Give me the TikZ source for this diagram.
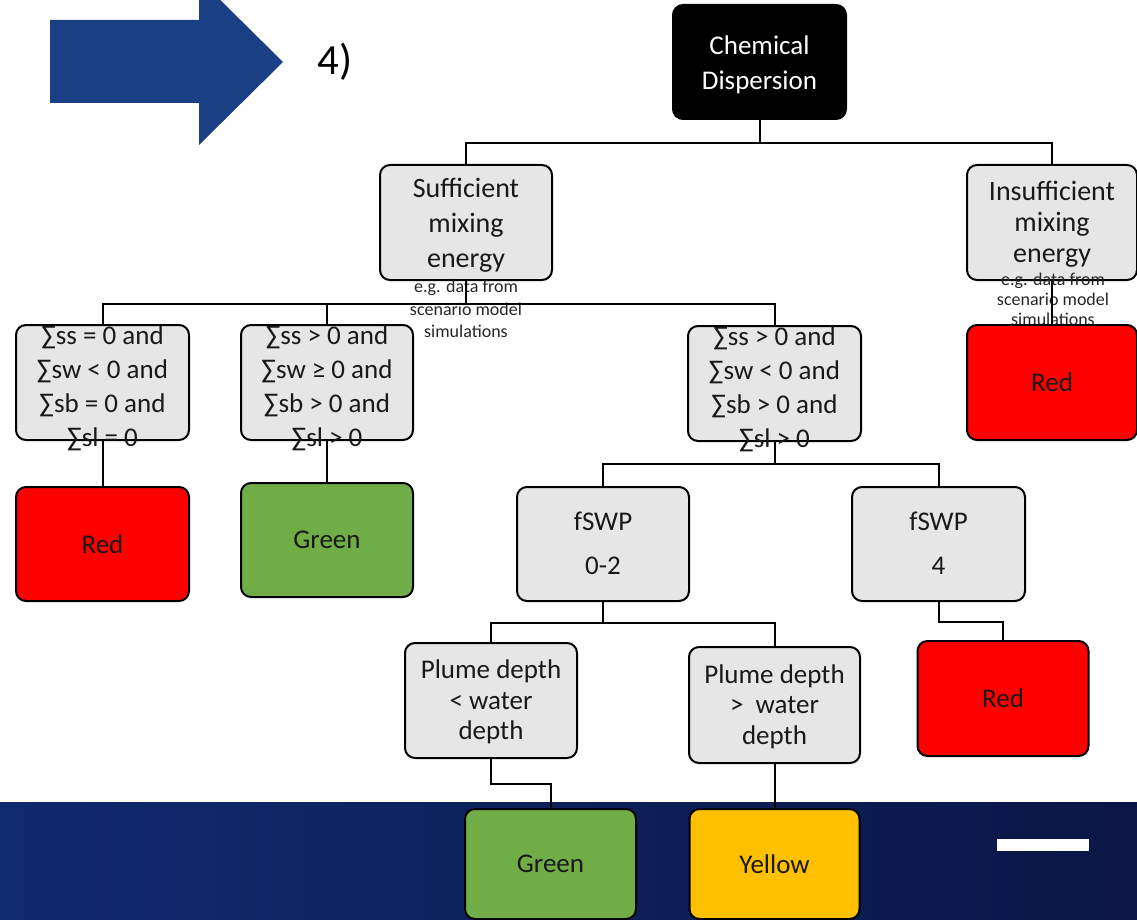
\documentclass[tikz,border=0pt]{standalone}
\usepackage{fontspec}
\setmainfont{Carlito}
\definecolor{boxgray}{RGB}{230,230,230}
\definecolor{boxred}{RGB}{255,0,0}
\definecolor{boxgreen}{RGB}{112,173,71}
\definecolor{boxyellow}{RGB}{255,192,0}
\definecolor{arrowblue}{RGB}{27,63,132}
\definecolor{bandleft}{RGB}{16,42,110}
\definecolor{bandmid}{RGB}{13,30,88}
\definecolor{bandright}{RGB}{11,22,70}
% multi-line text that may run over the box border
\newcommand{\boxtext}[2][9pt]{\smash{\raisebox{-#1}{\begin{tabular}{@{}c@{}}#2\end{tabular}}}}
\begin{document}
\begin{tikzpicture}[x=1pt,y=-1pt]
        \tikzstyle{decision}=[rectangle,rounded corners=10pt,draw=black,line width=2pt,fill=boxgray,text=black!90,minimum width=172pt,minimum height=115pt,inner sep=0pt,font=\fontsize{27}{33}\selectfont]
        \tikzstyle{outcome}=[decision,minimum height=114pt]
        \tikzstyle{note}=[inner sep=0pt,text=black!85,font=\fontsize{18}{22.5}\selectfont]
        \tikzstyle{edge}=[draw,line width=2pt]
        \useasboundingbox (0,0) rectangle (1137,920);
        \clip (0,0) rectangle (1137,920);
       \begin{scope}
         \shade[left color=bandleft,middle color=bandmid,right color=bandright] (0,802) rectangle (1137,920);
         \fill[white] (997,839) rectangle (1089,851);
         \fill[arrowblue] (50,20) -- (199,20) -- (199,-21) -- (283,62) -- (199,145) -- (199,103) -- (50,103) -- cycle;
         \node [inner sep=0pt,font=\fontsize{43}{50}\selectfont] (step4) at (335,62) {4)};
       \end{scope}
       \begin{scope}
         \node [decision,fill=black,text=white,minimum width=173pt,minimum height=114pt,font=\fontsize{27}{35}\selectfont] (chem) at (759.5,62) {\boxtext{Chemical\\Dispersion}};
         \node [decision,font=\fontsize{28}{35}\selectfont] (suff) at (466,222.5) {\boxtext{Sufficient\\mixing\\energy}};
         \node [note] (note1) at (466,315) {\boxtext[0pt]{e.g. data from\\scenario model\\simulations}};
         \node [decision,minimum width=170pt,font=\fontsize{28}{31}\selectfont] (insuff) at (1052,222.5) {\boxtext{Insufficient\\mixing\\energy}};
         \node [note,font=\fontsize{18}{20}\selectfont] (note2) at (1053,306) {\boxtext[0pt]{e.g. data from\\scenario model\\simulations}};
         \node [decision,minimum width=173pt,font=\fontsize{27}{34}\selectfont] (cond1) at (102.5,382.5) {\boxtext[12pt]{∑ss = 0 and\\∑sw < 0 and\\∑sb = 0 and\\∑sl = 0}};
         \node [decision,font=\fontsize{27}{34}\selectfont] (cond2) at (327,382.5) {\boxtext[12pt]{∑ss > 0 and\\∑sw ≥ 0 and\\∑sb > 0 and\\∑sl > 0}};
         \node [decision,minimum width=173pt,font=\fontsize{27}{34}\selectfont] (cond3) at (774.5,383.5) {\boxtext[12pt]{∑ss > 0 and\\∑sw < 0 and\\∑sb > 0 and\\∑sl > 0}};
         \node [outcome,fill=boxred,minimum width=170pt,minimum height=115pt] (red0) at (1052,382.5) {Red};
         \node [outcome,fill=boxred,minimum width=173pt] (red1) at (102.5,544) {Red};
         \node [outcome,fill=boxgreen] (green1) at (327,540) {Green};
         \node [decision,minimum height=114pt,font=\fontsize{27}{44}\selectfont] (fswp1) at (603,544) {\boxtext[6pt]{fSWP\\0-2}};
         \node [decision,minimum width=173pt,minimum height=114pt,font=\fontsize{27}{44}\selectfont] (fswp2) at (938.5,544) {\boxtext[6pt]{fSWP\\4}};
         \node [decision,font=\fontsize{27}{30.5}\selectfont] (plume1) at (491,700.5) {\boxtext{Plume depth\\< water\\depth}};
         \node [decision,minimum width=171pt,minimum height=116pt,font=\fontsize{27}{30.5}\selectfont] (plume2) at (774.5,705) {\boxtext{Plume depth\\>\ \ water\\depth}};
         \node [outcome,fill=boxred,minimum width=171pt,minimum height=115pt] (red2) at (1003,698.5) {Red};
         \node [outcome,fill=boxgreen,minimum width=171pt,minimum height=110pt] (green2) at (550.5,864) {Green};
         \node [outcome,fill=boxyellow,minimum width=170pt,minimum height=110pt] (yellow) at (774.5,864) {Yellow};
       \end{scope}
       \begin{scope}
         \path[edge] (chem.south) -- ++(0,23) -| (suff.north);
         \path[edge] (chem.south) -- ++(0,23) -| (insuff.north);
         \path[edge] (suff.south) -- ++(0,23) -| (cond1.north);
         \path[edge] (suff.south) -- ++(0,23) -| (cond2.north);
         \path[edge] (suff.south) -- ++(0,23) -| (cond3.north);
         \path[edge] (insuff) -- (red0);
         \path[edge] (cond1) -- (red1);
         \path[edge] (cond2) -- (green1);
         \path[edge] (cond3.south) -- ++(0,22) -| (fswp1.north);
         \path[edge] (cond3.south) -- ++(0,22) -| (fswp2.north);
         \path[edge] (fswp1.south) -- ++(0,21) -| (plume1.north);
         \path[edge] (fswp1.south) -- ++(0,21) -| (plume2.north);
         \path[edge] (fswp2.south) -- ++(0,20) -| (red2.north);
         \path[edge] (plume1.south) -- ++(0,25) -| (green2.north);
         \path[edge] (plume2) -- (yellow);
       \end{scope}
      \end{tikzpicture}
\end{document}
